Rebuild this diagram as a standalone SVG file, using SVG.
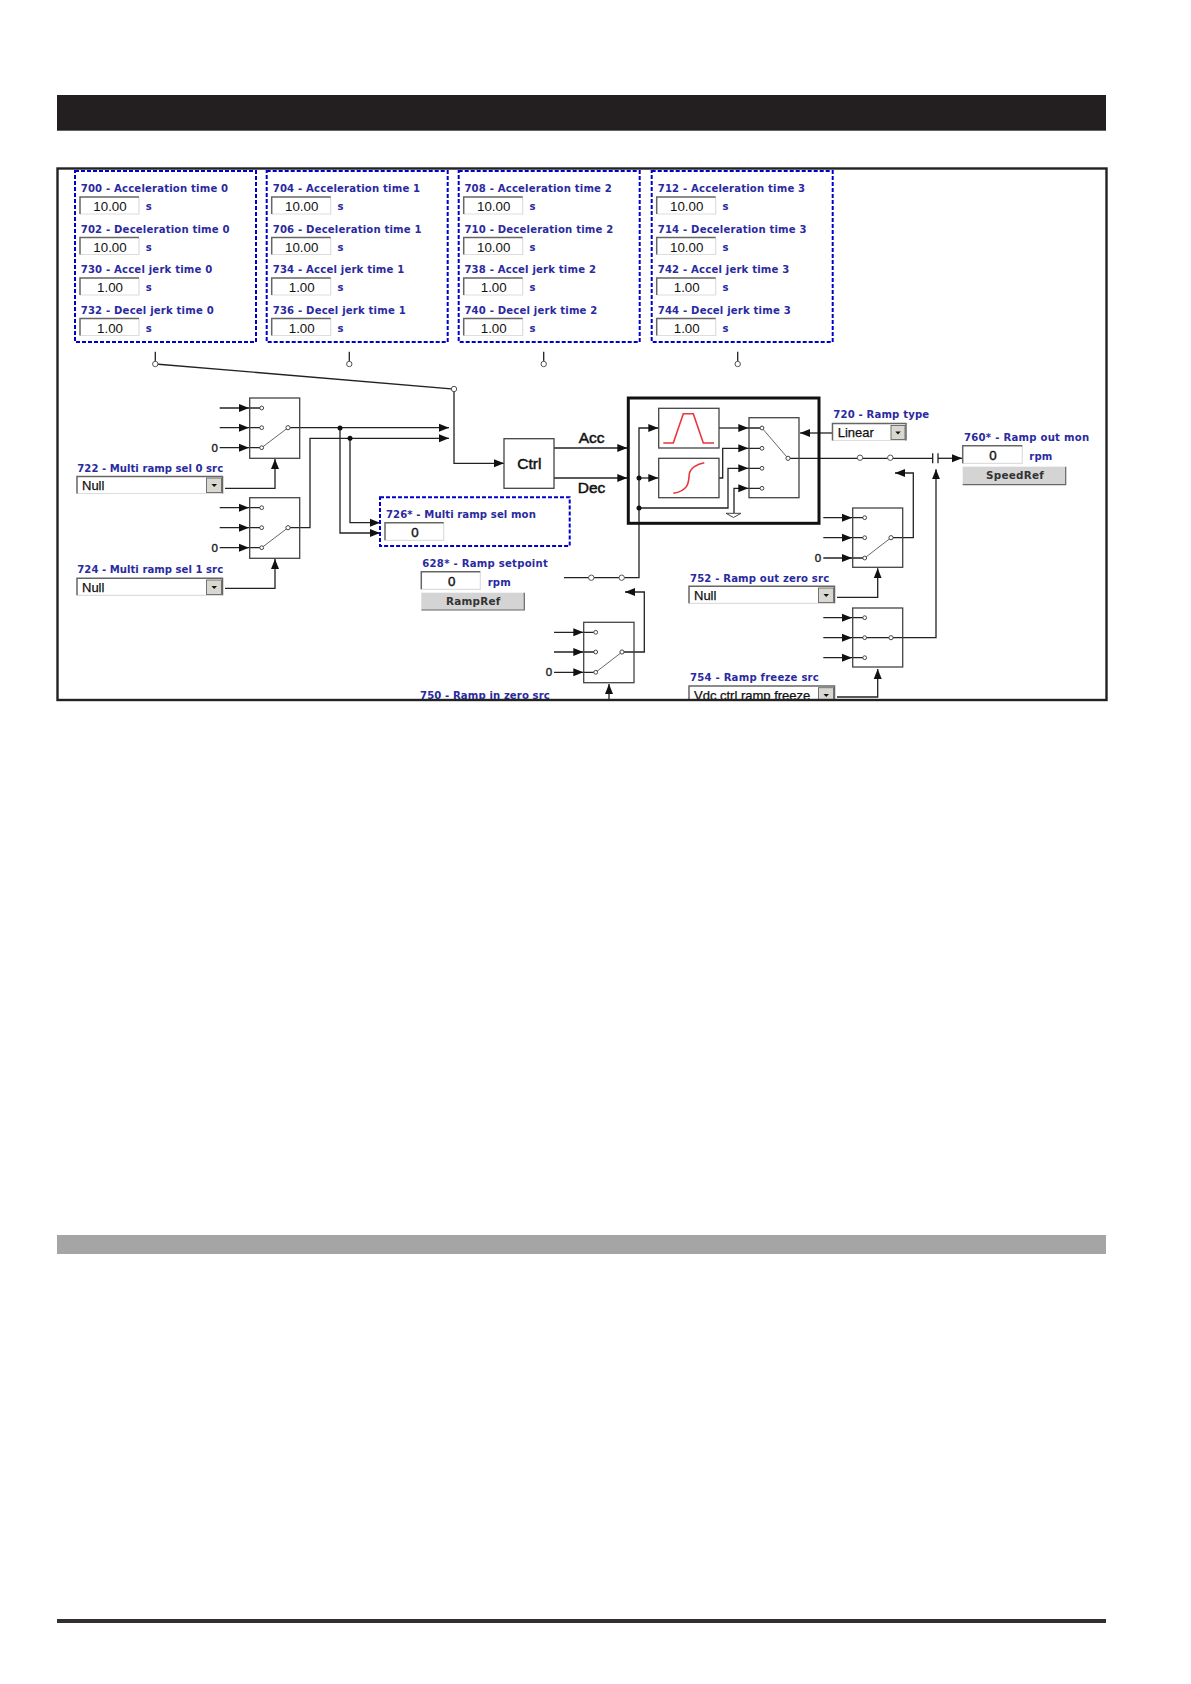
<svg xmlns="http://www.w3.org/2000/svg" width="1191" height="1684" viewBox="0 0 1191 1684">
<defs>
<style>
.lb{font-family:"DejaVu Sans",sans-serif;font-weight:700;font-size:10.1px;letter-spacing:.18px;fill:#2a2aa0}
.u{font-family:"DejaVu Sans",sans-serif;font-weight:700;font-size:10.1px;letter-spacing:.18px;fill:#2a2aa0}
.v{font-family:"Liberation Sans",sans-serif;font-size:13.3px;fill:#111;text-anchor:middle}
.n{stroke:#111;stroke-width:.4}
.sel{font-family:"Liberation Sans",sans-serif;font-size:13px;fill:#111;stroke:#111;stroke-width:.25}
.big{font-family:"Liberation Sans",sans-serif;font-size:15.5px;fill:#111;stroke:#111;stroke-width:.5}
.zero{font-family:"Liberation Sans",sans-serif;font-size:11.5px;fill:#222;stroke:#222;stroke-width:.4}
.bt{font-family:"DejaVu Sans",sans-serif;font-weight:700;font-size:10.4px;letter-spacing:.25px;fill:#333;text-anchor:middle}
.dash{fill:none;stroke:#0000cc;stroke-width:2;stroke-dasharray:4 2}
.box{fill:none;stroke:#444;stroke-width:1.3}
.thick{fill:none;stroke:#111;stroke-width:3}
.frame{fill:none;stroke:#222;stroke-width:2.4}
.w{fill:none;stroke:#222;stroke-width:1.3}
.o{fill:#fff;stroke:#444;stroke-width:1}
.ol{fill:#fff;stroke:#555;stroke-width:1}
.j{fill:#111}
.ih{fill:#fff}
.id{fill:none;stroke:#666;stroke-width:1.5}
.il{fill:none;stroke:#ddd;stroke-width:1.2}
.btn{fill:#d4d4d4}
.dd{fill:#d8d8d0;stroke:#666;stroke-width:.9}
.t{fill:#111}
.red{fill:none;stroke:#e8363a;stroke-width:1.6}
</style>
<marker id="ah" markerUnits="userSpaceOnUse" markerWidth="11" markerHeight="9" refX="10" refY="4.5" orient="auto"><path d="M0 .5L10 4.5L0 8.5z" fill="#111"/></marker>
<clipPath id="body"><rect x="57" y="168" width="1050" height="531"/></clipPath>
</defs>
<rect width="1191" height="1684" fill="#fff"/>
<g id="page-bars">
<rect x="57" y="95" width="1049" height="35.7" fill="#231f20"/>
<rect x="57" y="1235" width="1049" height="19" fill="#a6a5a6"/>
<rect x="57" y="1619" width="1049" height="4" fill="#332f2e"/>
</g>
<g id="connectors" clip-path="url(#body)">
<g class="w">
<path d="M155.3 351.7V362M349.3 351.7V362M543.7 351.7V362M737.7 351.7V362"/>
<path d="M155.3 364L454 389V463.3H504" marker-end="url(#ah)"/>
<path d="M288 427.7H449" marker-end="url(#ah)"/>
<path d="M288 527.7H310V438.3H449" marker-end="url(#ah)"/>
<path d="M340 428V533H380" marker-end="url(#ah)"/>
<path d="M350 438.3V522.7H380" marker-end="url(#ah)"/>
<path d="M225 488.3H275V459" marker-end="url(#ah)"/>
<path d="M225 588.3H275V559" marker-end="url(#ah)"/>
<path d="M554 448H627.3" marker-end="url(#ah)"/>
<path d="M554 478H627.3" marker-end="url(#ah)"/>
<path d="M564 577.7H639V428H658.3" marker-end="url(#ah)"/>
<path d="M639 478H658.3" marker-end="url(#ah)"/>
<path d="M639 508H728V468.3H748.3" marker-end="url(#ah)"/>
<path d="M719 428H748.3" marker-end="url(#ah)"/>
<path d="M719 478H722.7V448.3H748.3" marker-end="url(#ah)"/>
<path d="M734 513.3V488.3H748.3" marker-end="url(#ah)"/>
<path d="M748 428H760M748 448.3H760M748 468.3H760M748 488.3H760"/>
<path d="M832 433H800" marker-end="url(#ah)"/>
<path d="M788 458.3H932.7"/>
<path d="M938 458.3H962" marker-end="url(#ah)"/>
<path d="M891 537.7H913.3V473H895" marker-end="url(#ah)"/>
<path d="M837 597.3H877.7V568.3" marker-end="url(#ah)"/>
<path d="M837 697H877.7V669" marker-end="url(#ah)"/>
<path d="M864.7 637.7H936V469.3" marker-end="url(#ah)"/>
<path d="M622 652H644.3V592H625" marker-end="url(#ah)"/>
<path d="M609 702V684" marker-end="url(#ah)"/>
<path d="M219.7 408H249H260" marker-mid="url(#ah)"/>
<path d="M219.7 427.7H249H260" marker-mid="url(#ah)"/>
<path d="M219.7 447.7H249H260" marker-mid="url(#ah)"/>
<path d="M219.7 507.7H249H260" marker-mid="url(#ah)"/>
<path d="M219.7 527.7H249H260" marker-mid="url(#ah)"/>
<path d="M219.7 547.7H249H260" marker-mid="url(#ah)"/>
<path d="M554 632.3H583.3H594" marker-mid="url(#ah)"/>
<path d="M554 652H583.3H594" marker-mid="url(#ah)"/>
<path d="M554 672.3H583.3H594" marker-mid="url(#ah)"/>
<path d="M823.3 517.7H852H863" marker-mid="url(#ah)"/>
<path d="M823.3 537.7H852H863" marker-mid="url(#ah)"/>
<path d="M823.3 558H852H863" marker-mid="url(#ah)"/>
<path d="M823.3 617.7H852H863" marker-mid="url(#ah)"/>
<path d="M823.3 637.7H852H863" marker-mid="url(#ah)"/>
<path d="M823.3 657.7H852H863" marker-mid="url(#ah)"/>
</g>
<g class="ol">
<circle cx="155.3" cy="364" r="2.7"/><circle cx="349.3" cy="364" r="2.7"/><circle cx="543.7" cy="364" r="2.7"/><circle cx="737.7" cy="364" r="2.7"/>
<circle cx="454" cy="389" r="2.7"/>
<circle cx="591.3" cy="577.7" r="2.7"/><circle cx="621.7" cy="577.7" r="2.7"/>
<circle cx="860" cy="457.7" r="2.7"/><circle cx="890.3" cy="457.7" r="2.7"/>
</g>
<g class="j">
<circle cx="340" cy="428" r="2.5"/><circle cx="350" cy="438.3" r="2.5"/>
<circle cx="639" cy="478" r="2.5"/><circle cx="639" cy="508" r="2.5"/>
</g>
<path d="M932.7 453.3V463.3M938 453.3V463.3" fill="none" stroke="#222" stroke-width="1.3"/>
</g>
<g id="params-0">
<rect class="dash" x="75" y="171" width="181" height="171"/>
<text class="lb" x="80.7" y="192.3">700 - Acceleration time 0</text>
<g id="f700"><rect class="ih" x="80" y="197" width="59" height="17"/><path class="il" d="M80 214H139V197"/><path class="id" d="M80 214V197H139"/><text class="v" x="110" y="211">10.00</text><text class="u" x="145.7" y="210">s</text></g>
<text class="lb" x="80.7" y="232.7">702 - Deceleration time 0</text>
<g id="f702"><rect class="ih" x="80" y="237.5" width="59" height="17"/><path class="il" d="M80 254.5H139V237.5"/><path class="id" d="M80 254.5V237.5H139"/><text class="v" x="110" y="251.5">10.00</text><text class="u" x="145.7" y="250.5">s</text></g>
<text class="lb" x="80.7" y="273.3">730 - Accel jerk time 0</text>
<g id="f730"><rect class="ih" x="80" y="278" width="59" height="17"/><path class="il" d="M80 295H139V278"/><path class="id" d="M80 295V278H139"/><text class="v" x="110" y="292">1.00</text><text class="u" x="145.7" y="291">s</text></g>
<text class="lb" x="80.7" y="313.7">732 - Decel jerk time 0</text>
<g id="f732"><rect class="ih" x="80" y="318.5" width="59" height="17"/><path class="il" d="M80 335.5H139V318.5"/><path class="id" d="M80 335.5V318.5H139"/><text class="v" x="110" y="332.5">1.00</text><text class="u" x="145.7" y="331.5">s</text></g>
</g>
<g id="params-1" transform="translate(191.7 0)">
<rect class="dash" x="75" y="171" width="181" height="171"/>
<text class="lb" x="81" y="192.3">704 - Acceleration time 1</text>
<g id="f704"><rect class="ih" x="80" y="197" width="59" height="17"/><path class="il" d="M80 214H139V197"/><path class="id" d="M80 214V197H139"/><text class="v" x="110" y="211">10.00</text><text class="u" x="145.7" y="210">s</text></g>
<text class="lb" x="81" y="232.7">706 - Deceleration time 1</text>
<g id="f706"><rect class="ih" x="80" y="237.5" width="59" height="17"/><path class="il" d="M80 254.5H139V237.5"/><path class="id" d="M80 254.5V237.5H139"/><text class="v" x="110" y="251.5">10.00</text><text class="u" x="145.7" y="250.5">s</text></g>
<text class="lb" x="81" y="273.3">734 - Accel jerk time 1</text>
<g id="f734"><rect class="ih" x="80" y="278" width="59" height="17"/><path class="il" d="M80 295H139V278"/><path class="id" d="M80 295V278H139"/><text class="v" x="110" y="292">1.00</text><text class="u" x="145.7" y="291">s</text></g>
<text class="lb" x="81" y="313.7">736 - Decel jerk time 1</text>
<g id="f736"><rect class="ih" x="80" y="318.5" width="59" height="17"/><path class="il" d="M80 335.5H139V318.5"/><path class="id" d="M80 335.5V318.5H139"/><text class="v" x="110" y="332.5">1.00</text><text class="u" x="145.7" y="331.5">s</text></g>
</g>
<g id="params-2" transform="translate(383.7 0)">
<rect class="dash" x="75" y="171" width="181" height="171"/>
<text class="lb" x="80.7" y="192.3">708 - Acceleration time 2</text>
<g id="f708"><rect class="ih" x="80" y="197" width="59" height="17"/><path class="il" d="M80 214H139V197"/><path class="id" d="M80 214V197H139"/><text class="v" x="110" y="211">10.00</text><text class="u" x="145.7" y="210">s</text></g>
<text class="lb" x="80.7" y="232.7">710 - Deceleration time 2</text>
<g id="f710"><rect class="ih" x="80" y="237.5" width="59" height="17"/><path class="il" d="M80 254.5H139V237.5"/><path class="id" d="M80 254.5V237.5H139"/><text class="v" x="110" y="251.5">10.00</text><text class="u" x="145.7" y="250.5">s</text></g>
<text class="lb" x="80.7" y="273.3">738 - Accel jerk time 2</text>
<g id="f738"><rect class="ih" x="80" y="278" width="59" height="17"/><path class="il" d="M80 295H139V278"/><path class="id" d="M80 295V278H139"/><text class="v" x="110" y="292">1.00</text><text class="u" x="145.7" y="291">s</text></g>
<text class="lb" x="80.7" y="313.7">740 - Decel jerk time 2</text>
<g id="f740"><rect class="ih" x="80" y="318.5" width="59" height="17"/><path class="il" d="M80 335.5H139V318.5"/><path class="id" d="M80 335.5V318.5H139"/><text class="v" x="110" y="332.5">1.00</text><text class="u" x="145.7" y="331.5">s</text></g>
</g>
<g id="params-3" transform="translate(576.7 0)">
<rect class="dash" x="75" y="171" width="181" height="171"/>
<text class="lb" x="81" y="192.3">712 - Acceleration time 3</text>
<g id="f712"><rect class="ih" x="80" y="197" width="59" height="17"/><path class="il" d="M80 214H139V197"/><path class="id" d="M80 214V197H139"/><text class="v" x="110" y="211">10.00</text><text class="u" x="145.7" y="210">s</text></g>
<text class="lb" x="81" y="232.7">714 - Deceleration time 3</text>
<g id="f714"><rect class="ih" x="80" y="237.5" width="59" height="17"/><path class="il" d="M80 254.5H139V237.5"/><path class="id" d="M80 254.5V237.5H139"/><text class="v" x="110" y="251.5">10.00</text><text class="u" x="145.7" y="250.5">s</text></g>
<text class="lb" x="81" y="273.3">742 - Accel jerk time 3</text>
<g id="f742"><rect class="ih" x="80" y="278" width="59" height="17"/><path class="il" d="M80 295H139V278"/><path class="id" d="M80 295V278H139"/><text class="v" x="110" y="292">1.00</text><text class="u" x="145.7" y="291">s</text></g>
<text class="lb" x="81" y="313.7">744 - Decel jerk time 3</text>
<g id="f744"><rect class="ih" x="80" y="318.5" width="59" height="17"/><path class="il" d="M80 335.5H139V318.5"/><path class="id" d="M80 335.5V318.5H139"/><text class="v" x="110" y="332.5">1.00</text><text class="u" x="145.7" y="331.5">s</text></g>
</g>
<g id="sw-sel0">
<rect class="box" x="249.7" y="398" width="50" height="60.3"/>
<path d="M261.7 447.7L288 427.7" stroke="#666" stroke-width="1"/>
<circle class="o" cx="261.7" cy="408" r="1.9"/><circle class="o" cx="261.7" cy="427.7" r="1.9"/><circle class="o" cx="261.7" cy="447.7" r="1.9"/><circle class="o" cx="288" cy="427.7" r="2.1"/>
<text class="zero" x="211.5" y="451.7">0</text>
</g>
<g id="sw-sel1">
<rect class="box" x="249.7" y="497.7" width="50" height="60.6"/>
<path d="M261.7 547.7L288 527.7" stroke="#666" stroke-width="1"/>
<circle class="o" cx="261.7" cy="507.7" r="1.9"/><circle class="o" cx="261.7" cy="527.7" r="1.9"/><circle class="o" cx="261.7" cy="547.7" r="1.9"/><circle class="o" cx="288" cy="527.7" r="2.1"/>
<text class="zero" x="211.5" y="551.7">0</text>
</g>
<g id="f722">
<text class="lb" x="77.3" y="471.7" textLength="146">722 - Multi ramp sel 0 src</text>
<rect class="ih" x="77" y="476.5" width="146" height="17"/><path class="il" d="M77 493.5H222.5"/><path class="id" d="M77 493.5V476.5H222.5V493.5"/>
<rect class="dd" x="206.5" y="478" width="15" height="14.5"/><path class="t" d="M211.5 484H217L214.2 487z"/>
<text class="sel" x="82" y="490">Null</text>
</g>
<g id="f724">
<text class="lb" x="77.3" y="573.3" textLength="146">724 - Multi ramp sel 1 src</text>
<rect class="ih" x="77" y="578.3" width="146" height="17"/><path class="il" d="M77 595.3H222.5"/><path class="id" d="M77 595.3V578.3H222.5V595.3"/>
<rect class="dd" x="206.5" y="580" width="15" height="14.5"/><path class="t" d="M211.5 586H217L214.2 589z"/>
<text class="sel" x="82" y="592">Null</text>
</g>
<g id="f726">
<rect class="dash" x="380" y="497.3" width="189.7" height="48.7"/>
<text class="lb" x="386" y="518.3" textLength="150">726* - Multi ramp sel mon</text>
<rect class="ih" x="385" y="522.7" width="58.7" height="17.6"/><path class="il" d="M385 540.3H443.7V522.7"/><path class="id" d="M385 540.3V522.7H443.7"/>
<text class="v n" x="415" y="537">0</text>
</g>
<g id="f628">
<text class="lb" x="422.3" y="567.3" textLength="125.7">628* - Ramp setpoint</text>
<rect class="ih" x="421.3" y="571.7" width="59" height="17.6"/><path class="il" d="M421.3 589.3H480.3V571.7"/><path class="id" d="M421.3 589.3V571.7H480.3"/>
<text class="v n" x="451.7" y="585.7">0</text>
<text class="u" x="487.7" y="585.7">rpm</text>
<rect class="btn" x="421.3" y="592.7" width="103" height="17.3"/><path d="M421.3 610H524.3V592.7" fill="none" stroke="#666" stroke-width="1.2"/>
<text class="bt" x="473.3" y="605">RampRef</text>
</g>
<g id="ctrl">
<rect class="box" x="504" y="438.7" width="50" height="49.6"/>
<text class="big" x="517.3" y="469">Ctrl</text>
</g>
<text class="big" id="acc" x="578.7" y="443.3">Acc</text>
<text class="big" id="dec" x="577.7" y="493">Dec</text>
<g id="ramp-block">
<rect class="thick" x="628.3" y="398" width="190.7" height="125.3"/>
<rect class="box" x="658.7" y="408.3" width="60.3" height="39.7"/>
<path class="red" d="M663.3 443H673.3L683.3 413.7H693.3L703.3 443H714"/>
<rect class="box" x="658.7" y="458.3" width="60.3" height="39.4"/>
<path class="red" d="M673.3 493.3C690 491 688.5 480 689.3 474C690.2 468 697 464 704.3 462.7"/>
<rect class="box" x="749" y="417.7" width="50" height="80"/>
<path d="M762 428L788 458.3" stroke="#666" stroke-width="1"/>
<circle class="o" cx="762" cy="428" r="1.9"/><circle class="o" cx="762" cy="448.3" r="1.9"/><circle class="o" cx="762" cy="468.3" r="1.9"/><circle class="o" cx="762" cy="488.3" r="1.9"/><circle class="o" cx="788" cy="458.3" r="2.1"/>
<path d="M726 513.3H741L733.5 517.5z" fill="#fff" stroke="#444" stroke-width="1"/>
</g>
<g id="f720">
<text class="lb" x="833.3" y="418.3" textLength="96">720 - Ramp type</text>
<rect class="ih" x="832.5" y="423.5" width="73.5" height="17"/><path class="il" d="M832.5 440.5H906"/><path class="id" d="M832.5 440.5V423.5H906V440.5"/>
<rect class="dd" x="891" y="425.5" width="14" height="14"/><path class="t" d="M895.3 431.5H900.8L898 434.5z"/>
<text class="sel" x="837.7" y="437.3">Linear</text>
</g>
<g id="f760">
<text class="lb" x="964" y="441.3" textLength="125.3">760* - Ramp out mon</text>
<rect class="ih" x="962.7" y="445.7" width="59.6" height="17.6"/><path class="il" d="M962.7 463.3H1022.3V445.7"/><path class="id" d="M962.7 463.3V445.7H1022.3"/>
<text class="v n" x="993" y="460">0</text>
<text class="u" x="1029.3" y="460">rpm</text>
<rect class="btn" x="962.7" y="466.7" width="103" height="18"/><path d="M962.7 484.7H1065.7V466.7" fill="none" stroke="#666" stroke-width="1.2"/>
<text class="bt" x="1015" y="479.3">SpeedRef</text>
</g>
<g id="sw-outzero">
<rect class="box" x="852.7" y="508" width="50" height="59.3"/>
<path d="M864.7 558L891 537.7" stroke="#666" stroke-width="1"/>
<circle class="o" cx="864.7" cy="517.7" r="1.9"/><circle class="o" cx="864.7" cy="537.7" r="1.9"/><circle class="o" cx="864.7" cy="558" r="1.9"/><circle class="o" cx="891" cy="537.7" r="2.1"/>
<text class="zero" x="814.7" y="562">0</text>
</g>
<g id="f752">
<text class="lb" x="690" y="581.7" textLength="139.3">752 - Ramp out zero src</text>
<rect class="ih" x="689" y="586.3" width="146" height="17"/><path class="il" d="M689 603.3H834.5"/><path class="id" d="M689 603.3V586.3H834.5V603.3"/>
<rect class="dd" x="818.5" y="588" width="15" height="14.5"/><path class="t" d="M823.5 594H829L826.2 597z"/>
<text class="sel" x="694" y="600.3">Null</text>
</g>
<g id="sw-freeze">
<rect class="box" x="852.7" y="608" width="50" height="59"/>
<circle class="o" cx="864.7" cy="617.7" r="1.9"/><circle class="o" cx="864.7" cy="637.7" r="1.9"/><circle class="o" cx="864.7" cy="657.7" r="1.9"/><circle class="o" cx="891" cy="637.7" r="2.1"/>
</g>
<g id="sw-inzero">
<rect class="box" x="583.7" y="622.3" width="50.3" height="60.4"/>
<path d="M595.7 672.3L622 652" stroke="#666" stroke-width="1"/>
<circle class="o" cx="595.7" cy="632.3" r="1.9"/><circle class="o" cx="595.7" cy="652" r="1.9"/><circle class="o" cx="595.7" cy="672.3" r="1.9"/><circle class="o" cx="622" cy="652" r="2.1"/>
<text class="zero" x="545.7" y="676">0</text>
</g>
<g id="clipped" clip-path="url(#body)">
<g id="f750"><text class="lb" x="420" y="699.3" textLength="130">750 - Ramp in zero src</text></g>
<g id="f754">
<text class="lb" x="690" y="681.3" textLength="129">754 - Ramp freeze src</text>
<rect class="ih" x="689" y="686" width="146" height="17"/><path class="id" d="M689 703V686H834.5V703"/>
<rect class="dd" x="818.5" y="687.7" width="15" height="14.5"/><path class="t" d="M823.5 694H829L826.2 697z"/>
<text class="sel" x="694" y="700">Vdc ctrl ramp freeze</text>
</g>
</g>
<rect id="frame" class="frame" x="57.5" y="168.5" width="1049" height="531.5"/>
</svg>
